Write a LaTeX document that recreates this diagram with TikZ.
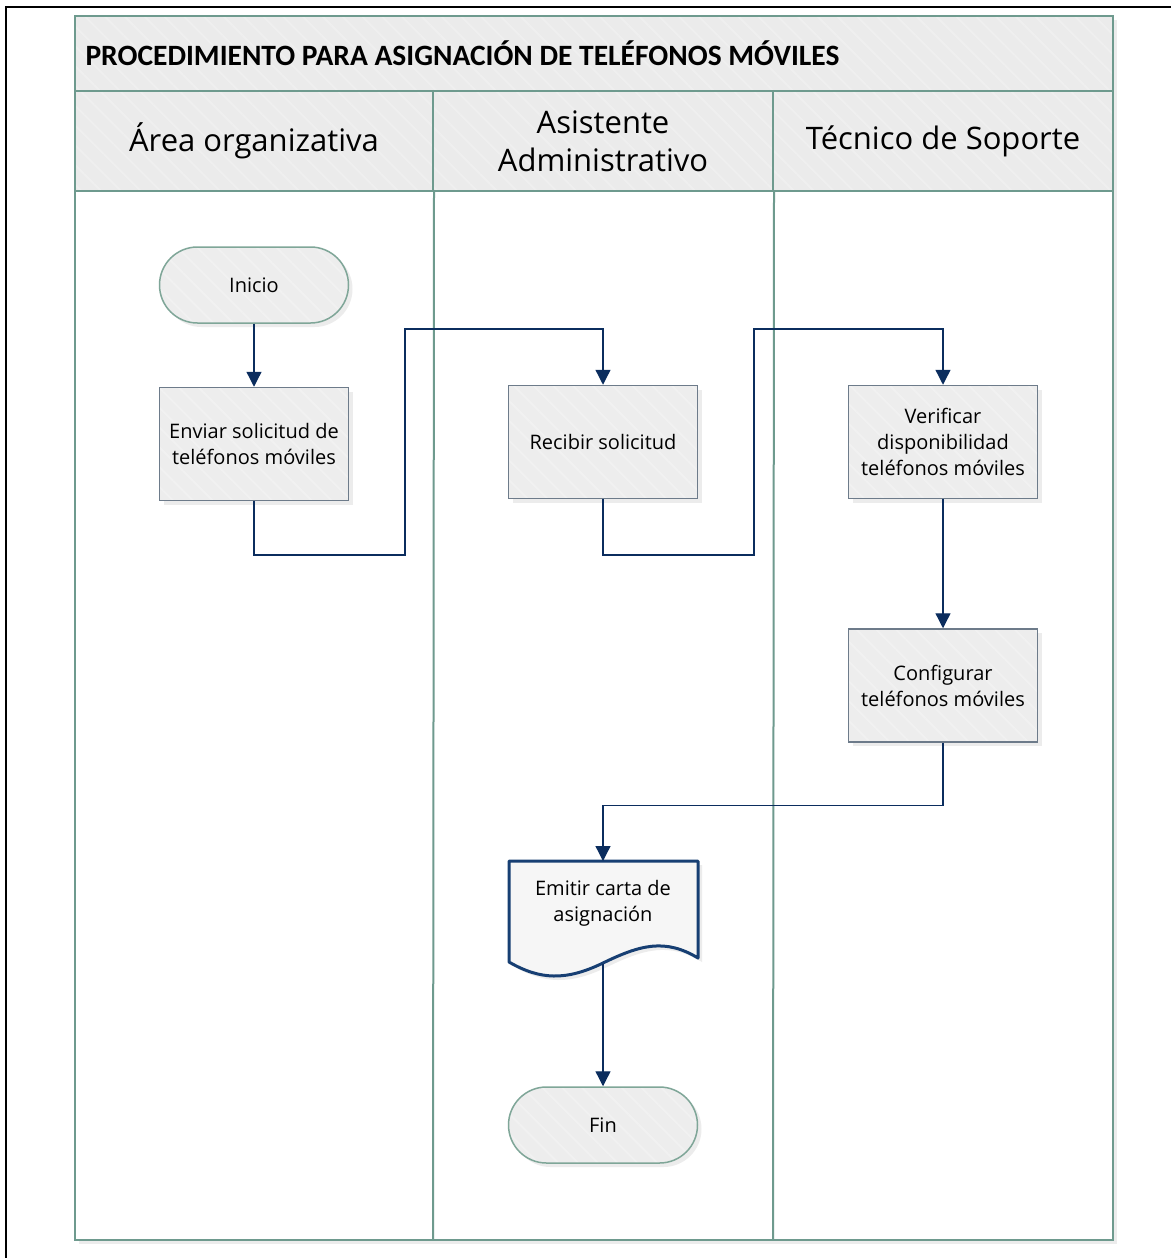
\documentclass[tikz,border=0pt]{standalone}
\usepackage{fontspec}
\setmainfont{Open Sans}
\newfontfamily\titlefont{Carlito}
\usetikzlibrary{positioning,arrows.meta,shadows,patterns.meta}
\definecolor{lanegreen}{HTML}{6E9A8E}
\definecolor{headgray}{HTML}{EBEBEB}
\definecolor{boxgray}{HTML}{EDEDED}
\definecolor{boxline}{HTML}{6D7B8A}
\definecolor{termline}{HTML}{7FA698}
\definecolor{navy}{HTML}{0B2D5E}
\definecolor{docline}{HTML}{173F73}

\begin{document}
\begin{tikzpicture}[x=1pt,y=-1pt,
    hatch/.style={preaction={fill=headgray},pattern={Lines[angle=-45,distance=14pt,line width=2pt]},pattern color=white!20!headgray},
    lanehead/.style={hatch,draw=lanegreen,line width=2pt,inner sep=0pt,align=center,
      font=\fontsize{31}{38}\selectfont},
    softshadow/.style={drop shadow={opacity=0.15,shadow xshift=4pt,shadow yshift=-4pt}},
    proc/.style={rectangle,softshadow,draw=boxline,line width=1.5pt,preaction={fill=boxgray},
      pattern={Lines[angle=-45,distance=14pt,line width=2pt]},pattern color=white!20!boxgray,
      minimum width=189pt,minimum height=113pt,align=center,
      font=\fontsize{20}{26}\selectfont},
    term/.style={proc,draw=termline,rounded corners=38pt,minimum height=76pt},
    flow/.style={draw=navy,line width=1.3pt,-{Triangle[length=15pt,width=15pt]}}]

  \useasboundingbox (0,0) rectangle (1171,1258);
  % outer frame
  \draw[line width=2.5pt] (6,1258) -- (6,7) -- (1171,7);

  % pool and lanes
  \fill[white,softshadow] (75,16) rectangle (1113,1240);
  \node[lanehead,minimum width=1038pt,minimum height=75pt] (titulo) at (594,53.5) {};
  \node[anchor=west,font=\titlefont\bfseries\fontsize{29.5}{34}\selectfont] (tituloTxt) at (82,53) {PROCEDIMIENTO PARA ASIGNACIÓN DE TELÉFONOS MÓVILES};
  \node[lanehead,minimum width=358pt,minimum height=100pt] (hArea) at (254,141) {Área organizativa};
  \node[lanehead,minimum width=340pt,minimum height=100pt] (hAsis) at (603,141) {Asistente\\Administrativo};
  \node[lanehead,minimum width=340pt,minimum height=100pt] (hTec) at (943,141) {Técnico de Soporte};
  \draw[lanegreen,line width=2pt] (75,191) rectangle (1113,1240);
  \draw[lanegreen,line width=2pt] (hArea.south east) -- (433,1240);
  \draw[lanegreen,line width=2pt] (hAsis.south east) -- (773,1240);

  % steps
  \node[term] (inicio) at (254,285) {Inicio};
  \node[proc,below=63pt of inicio] (enviar) {Enviar solicitud de\\teléfonos móviles};
  \node[proc] (recibir) at (603,442) {Recibir solicitud};
  \node[proc] (verificar) at (943,442) {Verificar\\disponibilidad\\teléfonos móviles};
  \node[proc,below=129pt of verificar] (configurar) {Configurar\\teléfonos móviles};

  % document
  \path[fill=white!50!boxgray,draw=docline,line width=3pt,line join=round,softshadow]
    (509,861) -- (698,861) -- (698,958)
    .. controls (665,938) and (640,945) .. (603,963)
    .. controls (566,981) and (540,980) .. (509,962) -- cycle;
  \node[align=center,font=\fontsize{20}{26}\selectfont,minimum width=189pt] (emitir) at (603,903) {Emitir carta de\\asignación};
  \coordinate (emitirBase) at (603,964);
  \node[term] (fin) at (603,1125) {Fin};

  % connectors
  \draw[flow] (inicio) -- (enviar);
  \draw[flow] (enviar.south) |- (405,555) -- (405,329) -| (recibir.north);
  \draw[flow] (recibir.south) |- (754,555) -- (754,329) -| (verificar.north);
  \draw[flow] (verificar) -- (configurar);
  \draw[flow] (configurar.south) -- ++(0,63) -| (603,861);
  \draw[flow] (emitirBase) -- (fin);
\end{tikzpicture}
\end{document}
